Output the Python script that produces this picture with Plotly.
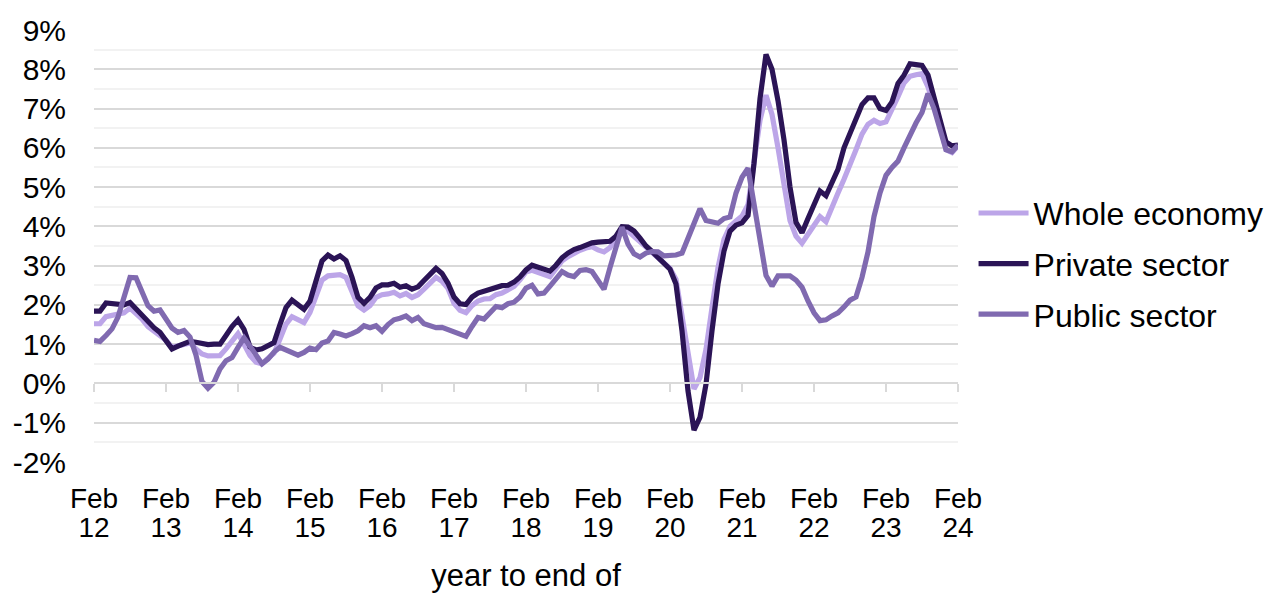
import plotly.graph_objects as go

# ---------------- data (annual % change, year to end of month) ----------------
month_names = ['Jan', 'Feb', 'Mar', 'Apr', 'May', 'Jun', 'Jul', 'Aug', 'Sep', 'Oct', 'Nov', 'Dec']
months = [f"{month_names[(1 + k) % 12]} {12 + (1 + k) // 12:02d}" for k in range(145)]  # Feb 12 .. Feb 24

whole_economy = [
    1.52, 1.52, 1.70, 1.74, 1.75, 1.80, 1.92, 1.80, 1.64, 1.45, 1.32, 1.22,
    1.10, 0.92, 0.96, 1.00, 1.03, 0.88, 0.75, 0.70, 0.69, 0.71, 0.88, 1.09,
    1.27, 1.00, 0.71, 0.54, 0.50, 0.64, 0.77, 1.13, 1.51, 1.70, 1.64, 1.55,
    1.81, 2.23, 2.63, 2.74, 2.74, 2.77, 2.70, 2.36, 1.98, 1.87, 1.98, 2.19,
    2.26, 2.28, 2.32, 2.23, 2.29, 2.19, 2.26, 2.40, 2.57, 2.70, 2.60, 2.42,
    2.04, 1.86, 1.80, 1.98, 2.10, 2.15, 2.16, 2.26, 2.30, 2.37, 2.47, 2.64,
    2.84, 2.88, 2.83, 2.78, 2.72, 2.92, 3.12, 3.23, 3.32, 3.39, 3.45, 3.48,
    3.40, 3.35, 3.46, 3.72, 3.94, 3.88, 3.75, 3.61, 3.47, 3.36, 3.22, 3.08,
    2.93, 2.65, 1.68, 0.62, -0.14, 0.15, 0.87, 1.93, 2.95, 3.67, 4.00, 4.14,
    4.26, 4.55, 5.55, 6.70, 7.34, 6.85, 6.00, 5.00, 4.15, 3.75, 3.57, 3.80,
    4.05, 4.25, 4.12, 4.45, 4.85, 5.20, 5.55, 5.95, 6.35, 6.60, 6.70, 6.62,
    6.66, 6.95, 7.30, 7.65, 7.82, 7.86, 7.89, 7.55, 7.08, 6.58, 5.95, 5.88,
    6.05,
]

private_sector = [
    1.84, 1.84, 2.05, 2.04, 2.02, 2.00, 2.06, 1.90, 1.73, 1.56, 1.42, 1.30,
    1.10, 0.88, 0.95, 1.00, 1.07, 1.05, 1.02, 0.99, 1.00, 1.00, 1.22, 1.45,
    1.62, 1.38, 0.93, 0.85, 0.88, 0.95, 1.04, 1.50, 1.93, 2.12, 2.00, 1.89,
    2.10, 2.62, 3.12, 3.27, 3.17, 3.25, 3.13, 2.70, 2.19, 2.04, 2.19, 2.43,
    2.51, 2.51, 2.55, 2.45, 2.49, 2.40, 2.46, 2.62, 2.79, 2.93, 2.80, 2.55,
    2.20, 2.03, 2.01, 2.20, 2.30, 2.35, 2.38, 2.44, 2.49, 2.50, 2.58, 2.71,
    2.89, 3.01, 2.97, 2.92, 2.86, 3.01, 3.20, 3.32, 3.41, 3.46, 3.52, 3.58,
    3.60, 3.60, 3.62, 3.75, 3.99, 3.98, 3.88, 3.70, 3.50, 3.36, 3.20, 3.08,
    2.91, 2.53, 1.34, -0.19, -1.19, -0.86, -0.02, 1.34, 2.53, 3.37, 3.88, 4.03,
    4.09, 4.28, 5.60, 7.25, 8.38, 8.00, 7.20, 6.20, 5.00, 4.10, 3.84, 4.20,
    4.55, 4.90, 4.78, 5.15, 5.45, 6.00, 6.35, 6.75, 7.10, 7.27, 7.27, 7.00,
    6.95, 7.17, 7.64, 7.85, 8.14, 8.12, 8.10, 7.85, 7.25, 6.66, 6.15, 6.05,
    6.07,
]

public_sector = [
    1.10, 1.07, 1.22, 1.39, 1.69, 2.20, 2.70, 2.69, 2.35, 1.98, 1.84, 1.87,
    1.64, 1.41, 1.30, 1.35, 1.18, 0.72, 0.05, -0.12, 0.03, 0.37, 0.58, 0.66,
    0.92, 1.16, 0.95, 0.70, 0.50, 0.62, 0.80, 0.92, 0.85, 0.78, 0.72, 0.79,
    0.90, 0.86, 1.03, 1.08, 1.30, 1.26, 1.21, 1.27, 1.34, 1.47, 1.42, 1.47,
    1.33, 1.50, 1.62, 1.66, 1.72, 1.60, 1.68, 1.52, 1.46, 1.42, 1.43, 1.38,
    1.33, 1.27, 1.20, 1.45, 1.68, 1.64, 1.80, 1.96, 1.93, 2.03, 2.07, 2.20,
    2.43, 2.50, 2.28, 2.30, 2.48, 2.68, 2.85, 2.76, 2.72, 2.88, 2.90, 2.85,
    2.60, 2.40, 2.95, 3.50, 3.98, 3.55, 3.30, 3.22, 3.32, 3.36, 3.35, 3.25,
    3.25, 3.27, 3.32, 3.70, 4.12, 4.45, 4.15, 4.10, 4.08, 4.20, 4.24, 4.85,
    5.25, 5.48, 4.60, 3.55, 2.75, 2.48, 2.74, 2.74, 2.74, 2.63, 2.45, 2.10,
    1.80, 1.60, 1.62, 1.72, 1.80, 1.95, 2.12, 2.20, 2.70, 3.35, 4.25, 4.85,
    5.30, 5.50, 5.66, 6.00, 6.33, 6.63, 6.90, 7.38, 7.00, 6.50, 5.95, 5.90,
    6.07,
]

series_names = ['Whole economy', 'Private sector', 'Public sector']
series_colors = ['#BCA5E8', '#2B1456', '#806AB0']

x_tick_cats = [f"Feb {y}" for y in range(12, 25)]
x_tick_month = ["Feb"] * len(x_tick_cats)
x_tick_year = [f"{y}" for y in range(12, 25)]
y_tick_vals = list(range(-2, 10))
y_tick_text = [f"{v}%" for v in y_tick_vals]

# ---------------- figure ----------------
fig = go.Figure()
for name, vals, col, xa in zip(series_names,
                                [whole_economy, private_sector, public_sector],
                                series_colors, ['x', 'x2', 'x3']):
    fig.add_trace(go.Scatter(
        x=months, y=vals, name=name, mode='lines', xaxis=xa, legendgroup=name,
        line=dict(color=col, width=5.2),
        hovertemplate='%{x}: %{y:.1f}%<extra>' + name + '</extra>',
    ))

font_family = 'Liberation Sans, Arial, sans-serif'

fig.update_layout(
    width=1269, height=593,
    margin=dict(l=94, r=311, t=30, b=131, autoexpand=False),
    paper_bgcolor='white', plot_bgcolor='white',
    font=dict(family=font_family, size=28, color='#000000'),
    showlegend=True,
    legend=dict(
        x=1.018, xanchor='left', y=0.459, yanchor='middle',
        font=dict(size=32), bgcolor='rgba(0,0,0,0)',
        tracegroupgap=6, itemwidth=50,
    ),
    # month part of the category labels
    xaxis=dict(
        type='category', range=[0, 144],
        tickmode='array', tickvals=x_tick_cats, ticktext=x_tick_month,
        showgrid=False, showline=False, zeroline=False, ticks='',
        ticklabelstandoff=17, automargin=False,
    ),
    # axis line crossing at 0% with tick marks
    xaxis2=dict(
        type='category', overlaying='x', matches='x',
        anchor='free', position=2 / 11,
        showline=True, linecolor='#D9D9D9', linewidth=2,
        ticks='outside', ticklen=8, tickwidth=2, tickcolor='#D9D9D9',
        tickmode='array', tickvals=x_tick_cats,
        showticklabels=False, showgrid=False, zeroline=False,
    ),
    # year part of the category labels + axis title
    xaxis3=dict(
        type='category', overlaying='x', matches='x',
        anchor='free', position=0, side='bottom',
        tickmode='array', tickvals=x_tick_cats, ticktext=x_tick_year,
        showline=False, ticks='', showgrid=False, zeroline=False,
        ticklabelstandoff=46, automargin=False,
        title=dict(text='year to end of', standoff=33, font=dict(size=31)),
    ),
    yaxis=dict(
        range=[-2, 9], tickmode='array', tickvals=y_tick_vals, ticktext=y_tick_text,
        tickfont=dict(size=30),
        showgrid=True, gridcolor='#D9D9D9', gridwidth=1.5,
        minor=dict(tickmode='linear', tick0=-2, dtick=0.5, showgrid=True,
                   gridcolor='#F2F2F2', gridwidth=1.5, ticks=''),
        zeroline=False, showline=False, ticks='',
        ticklabelstandoff=27, automargin=False,
    ),
)

fig.write_html("out.html", config={'displayModeBar': False},
               post_script="document.body.style.margin='0';")
